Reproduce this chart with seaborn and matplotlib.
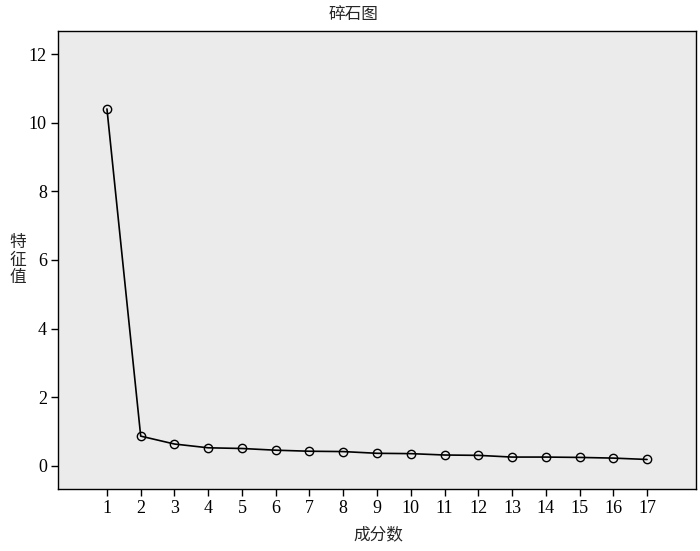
import matplotlib
matplotlib.use("Agg")
import matplotlib.pyplot as plt
import seaborn as sns
import pandas as pd

components = list(range(1, 18))
eigenvalues = [10.40, 0.87, 0.64, 0.53, 0.51, 0.46, 0.43, 0.42, 0.37, 0.36,
               0.32, 0.31, 0.26, 0.26, 0.25, 0.23, 0.19]
y_ticks = [0, 2, 4, 6, 8, 10, 12]

sns.set_theme(style="ticks")
plt.rcParams['font.family'] = ['Liberation Serif', 'Noto Sans CJK SC']

df = pd.DataFrame({"comp": components, "eig": eigenvalues})

fig = plt.figure(figsize=(7.0, 5.51), dpi=100)
ax = fig.add_axes([58/700, 1-489/551, (696-58)/700, (489-31)/551])
ax.set_facecolor("#ebebeb")

sns.lineplot(data=df, x="comp", y="eig", ax=ax, color="black", linewidth=1.2,
             marker="o", markersize=6, markerfacecolor="none",
             markeredgecolor="black", markeredgewidth=1.0)

ax.set_xlim(-0.45, 18.45)
ax.set_ylim(-0.67, 12.67)
ax.set_xticks(components)
ax.set_xticklabels([str(c) for c in components])
ax.set_yticks(y_ticks)
ax.set_yticklabels([str(t) for t in y_ticks])
ax.tick_params(axis="both", direction="out", length=5, width=1, colors="black",
               labelsize=13, pad=3)
for s in ax.spines.values():
    s.set_color("black")
    s.set_linewidth(1.0)
ax.set_xlabel("")
ax.set_ylabel("")

cjk = ['Noto Sans CJK SC']
fig.text(353/700, 1-15/551, "碎石图", ha="center", va="center", fontsize=12,
         family=cjk)
fig.text(378/700, 1-535/551, "成分数", ha="center", va="center", fontsize=12,
         family=cjk)
fig.text(18/700, 1-260/551, "特\n征\n值", ha="center", va="center", fontsize=12,
         family=cjk, linespacing=1.05)

fig.savefig("out.png", dpi=100)
